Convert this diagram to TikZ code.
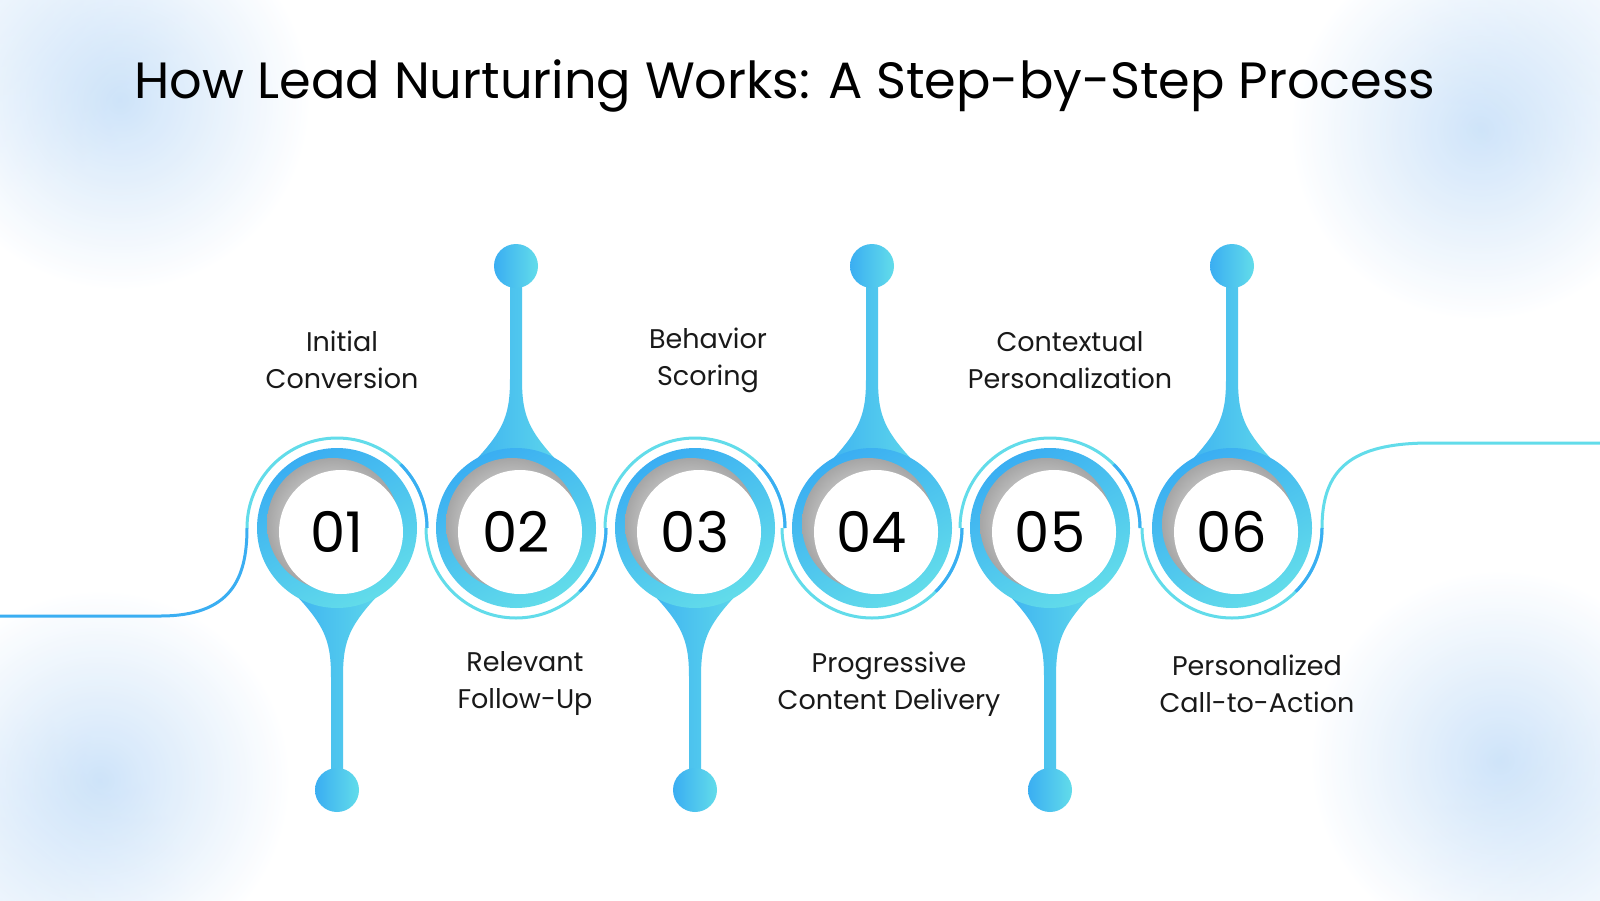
\documentclass[tikz,border=0pt]{standalone}
\usepackage{fontspec}
\setmainfont{Poppins}
\usetikzlibrary{shadings}
\definecolor{cb}{HTML}{3AAEF2}
\definecolor{cc}{HTML}{62DCEA}
\definecolor{bgb}{HTML}{C4DEF8}
\begin{document}
\begin{tikzpicture}[x=1pt,y=-1pt,
  lbl/.style={font=\fontsize{27}{37}\selectfont,align=center,text=black!90},
  num/.style={font=\fontsize{56}{60}\selectfont,text=black},
  wire/.style={line width=3pt}]
\useasboundingbox (0,0) rectangle (1600,900);
\fill[white] (0,0) rectangle (1600,900);
\foreach \x/\y in {0/0,1600/0,0/900,1600/900,120/100,1480/130,100/780,1500/760}{
  \shade[inner color=bgb,outer color=white,opacity=0.8] (\x,\y) circle (190);}
\node[font=\fontsize{51}{55}\selectfont] (title) at (785,86) {How Lead Nurturing Works: A Step-by-Step Process};
% connecting wire
\draw[wire,cb] (0,616) -- (160,616) .. controls (230,616) and (247,580) .. (247,528);
\draw[wire,cc] (1322,528) .. controls (1322,470) and (1350,443) .. (1430,443) -- (1600,443);
\foreach \cx in {337,695,1050}{
  \draw[wire,cc] (\cx-90,528) arc[start angle=180,end angle=360,radius=90];
  \draw[wire,cb] (\cx+90,528) arc[start angle=360,end angle=315,radius=90];
}
\foreach \cx in {516,872,1232}{
  \draw[wire,cc] (\cx-90,528) arc[start angle=180,end angle=0,radius=90];
  \draw[wire,cb] (\cx+90,528) arc[start angle=0,end angle=45,radius=90];
}
% drops
\foreach \cx/\s in {337/1,516/-1,695/1,872/-1,1050/1,1232/-1}{
  \shade[left color=cb,right color=cc]
   (\cx-58,528+\s*50) .. controls (\cx-12,528+\s*95) and (\cx-6,528+\s*110) .. (\cx-6,528+\s*150)
   -- (\cx-6,528+\s*255) -- (\cx+6,528+\s*255) -- (\cx+6,528+\s*150)
   .. controls (\cx+6,528+\s*110) and (\cx+12,528+\s*95) .. (\cx+58,528+\s*50) -- cycle;
  \shade[left color=cb,right color=cc] (\cx,528+\s*262) circle (22);
  \shade[left color=cb,right color=cc,shading angle=30] (\cx,528) circle (80);
  \shade[inner color=white,outer color=black!35] (\cx-4,524) circle (66);
  \fill[white] (\cx+4,532) circle (62);
}
\foreach \n/\cx in {01/337,02/516,03/695,04/872,05/1050,06/1232}{
  \node[num] (n\n) at (\cx,532) {\n};}
\node[lbl] (l1) at (342,360) {Initial\\Conversion};
\node[lbl] (l3) at (708,360) {Behavior\\Scoring};
\node[lbl] (l5) at (1070,360) {Contextual\\Personalization};
\node[lbl] (l2) at (525,684) {Relevant\\Follow-Up};
\node[lbl] (l4) at (889,684) {Progressive\\Content Delivery};
\node[lbl] (l6) at (1257,684) {Personalized\\Call-to-Action};
\end{tikzpicture}
\end{document}
